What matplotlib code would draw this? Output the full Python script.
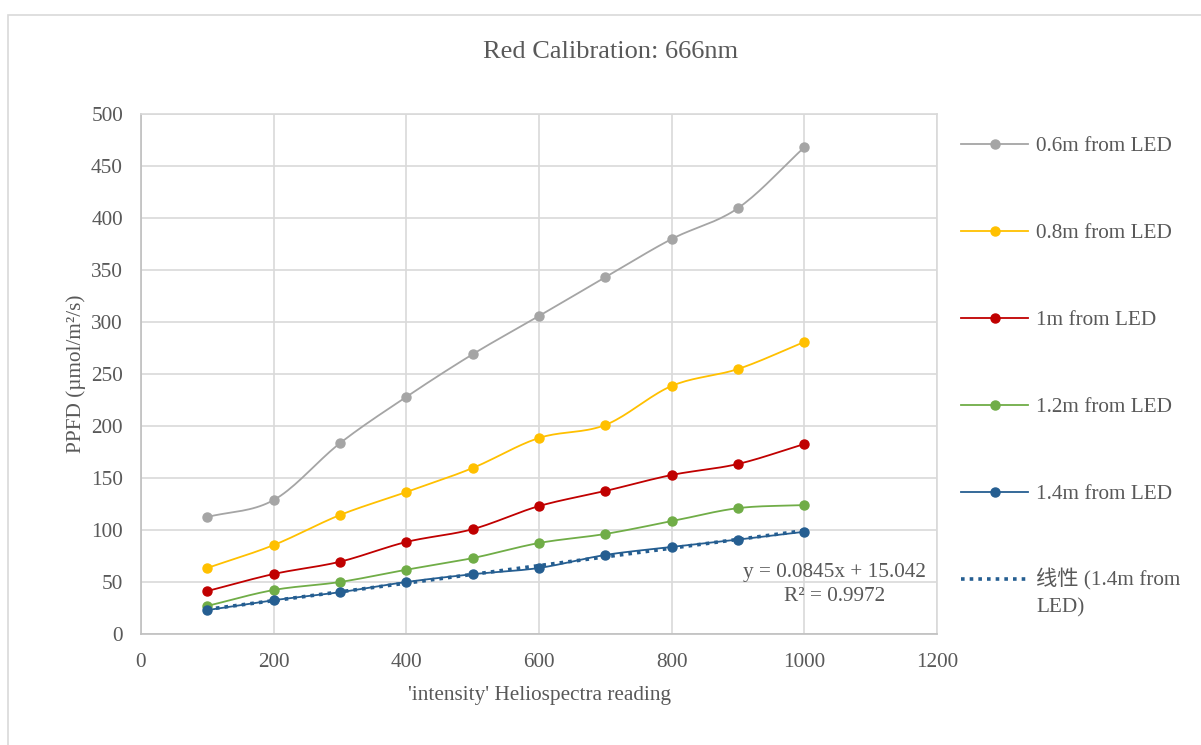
import numpy as np
import matplotlib
matplotlib.use("Agg")
import matplotlib.pyplot as plt
from matplotlib.patches import Rectangle
from matplotlib.lines import Line2D

# readings
intensity = [100, 200, 300, 400, 500, 600, 700, 800, 900, 1000]
ppfd_06 = [112.5, 128.8, 183.5, 228.0, 269.0, 305.8, 343.0, 379.8, 409.5, 468.0]
ppfd_08 = [63.5, 85.5, 114.4, 136.5, 159.6, 188.5, 201.0, 238.5, 254.8, 280.8]
ppfd_10 = [41.3, 57.7, 69.5, 88.5, 100.8, 123.0, 137.5, 152.9, 163.5, 182.7]
ppfd_12 = [27.0, 42.3, 50.0, 61.8, 73.0, 87.5, 96.2, 108.5, 121.0, 124.0]
ppfd_14 = [23.0, 32.5, 40.2, 50.0, 57.5, 63.5, 76.0, 83.7, 90.8, 98.3]

labels = ["0.6m from LED", "0.8m from LED", "1m from LED", "1.2m from LED", "1.4m from LED"]
colors = ["#a5a5a5", "#ffc000", "#c00000", "#70ad47", "#255e91"]
trend_label = "线性 (1.4m from\nLED)"

FONT = ["Liberation Serif", "Noto Sans CJK SC", "DejaVu Sans"]
TXT = "#595959"
W, H = 1201, 745


def smooth(x, y, n=20):
    # catmull-rom style smoothing, like Excel's "smoothed line"
    x = np.asarray(x, float)
    y = np.asarray(y, float)
    px = np.concatenate([[2 * x[0] - x[1]], x, [2 * x[-1] - x[-2]]])
    py = np.concatenate([[2 * y[0] - y[1]], y, [2 * y[-1] - y[-2]]])
    xs, ys = [], []
    t = np.linspace(0, 1, n)
    for i in range(1, len(px) - 2):
        for arr, out in ((px, xs), (py, ys)):
            p0, p1, p2, p3 = arr[i - 1], arr[i], arr[i + 1], arr[i + 2]
            seg = 0.5 * ((2 * p1) + (-p0 + p2) * t + (2 * p0 - 5 * p1 + 4 * p2 - p3) * t ** 2
                         + (-p0 + 3 * p1 - 3 * p2 + p3) * t ** 3)
            out.extend(seg)
    return np.array(xs), np.array(ys)


plt.rcParams["font.family"] = FONT

fig = plt.figure(figsize=(W / 100, H / 100), dpi=100)
fig.patch.set_facecolor("white")
fig.patches.append(Rectangle((8 / W, -0.1), 1.2, 1 - 15 / H + 0.1, transform=fig.transFigure,
                             fill=False, edgecolor="#d9d9d9", linewidth=1.2))

ax = fig.add_axes([141 / W, 1 - 634 / H, 796 / W, 520 / H])

series = [ppfd_06, ppfd_08, ppfd_10, ppfd_12, ppfd_14]
for vals, col in zip(series, colors):
    sx, sy = smooth(intensity, vals)
    ax.plot(sx, sy, color=col, linewidth=1.3, zorder=3)
    ax.plot(intensity, vals, "o", color=col, markersize=6.5, zorder=4)

# linear trend for the 1.4m series
slope, icpt = np.polyfit(intensity, ppfd_14, 1)
tx = np.array([intensity[0], intensity[-1]])
ax.plot(tx, slope * tx + icpt, color=colors[4], linestyle=(0, (1, 1.4)), linewidth=2.6, zorder=5)

ax.text(1046, 48, "y = 0.0845x + 15.042\nR² = 0.9972", ha="center", va="center",
        multialignment="center", fontsize=15.3, color=TXT, linespacing=1.35, zorder=6)

ax.set_xlim(0, 1200)
ax.set_ylim(0, 500)
ax.set_xticks(range(0, 1201, 200))
ax.set_yticks(range(0, 501, 50))
ax.grid(True, color="#d9d9d9", linewidth=1.2)
ax.set_axisbelow(True)
ax.tick_params(length=0, labelsize=15.3, colors=TXT)
ax.tick_params(axis="x", pad=14)
ax.tick_params(axis="y", pad=13)
for sp in ["top", "right"]:
    ax.spines[sp].set_color("#d9d9d9")
    ax.spines[sp].set_linewidth(1.2)
for sp in ["left", "bottom"]:
    ax.spines[sp].set_color("#bfbfbf")
    ax.spines[sp].set_linewidth(1.2)

ax.set_xlabel("'intensity' Heliospectra reading", fontsize=15.3, color=TXT, labelpad=10)
ax.set_ylabel("PPFD (µmol/m²/s)", fontsize=15.3, color=TXT, labelpad=4)
fig.text(611 / W, 1 - 52 / H, "Red Calibration: 666nm", ha="center", va="center",
         fontsize=19, color=TXT)

# legend, laid out like Excel's (handle level with the first text line)
leg_rows = [144, 231, 318, 405, 492]
for yy, col, lab in zip(leg_rows, colors, labels):
    fy = 1 - yy / H
    fig.add_artist(Line2D([961 / W, 1028 / W], [fy, fy], transform=fig.transFigure,
                          color=col, linewidth=1.3))
    fig.add_artist(Line2D([995 / W], [fy], transform=fig.transFigure, color=col,
                          marker="o", markersize=6.5, linestyle="none"))
    fig.text(1036 / W, fy, lab, ha="left", va="center_baseline", fontsize=15.3, color=TXT)

fy = 1 - 579 / H
fig.add_artist(Line2D([961 / W, 1028 / W], [fy, fy], transform=fig.transFigure,
                      color=colors[4], linestyle=(0, (1, 1.4)), linewidth=2.6))
fig.text(1036 / W, fy + 11 / H, trend_label, ha="left", va="top", fontsize=15.3,
         color=TXT, linespacing=1.6)

fig.savefig("out.png", dpi=100, facecolor="white")
